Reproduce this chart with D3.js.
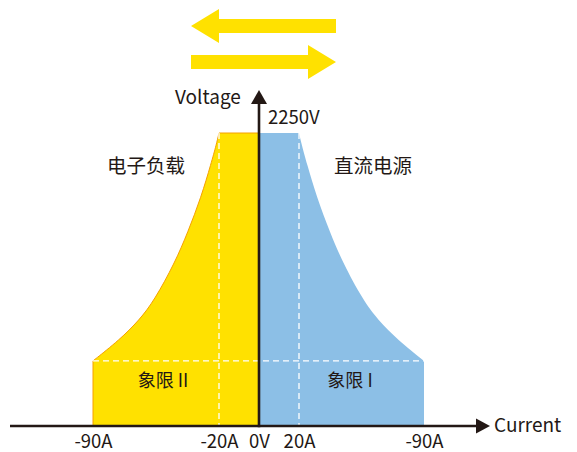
<!DOCTYPE html>
<html>
<head>
<meta charset="utf-8">
<script src="https://cdn.jsdelivr.net/npm/d3@7"></script>
<style>
  html, body { margin: 0; padding: 0; background: #fff; }
  svg { display: block; }
  text { font-family: "Noto Sans CJK SC", "Noto Sans", sans-serif; fill: #231815; }
</style>
</head>
<body>
<svg id="chart" width="577" height="452"></svg>
<script>
// ---- data ----
const tickCurrents = [-90, -20, 0, 20, 90];
const tickLabels = ["-90A", "-20A", "0V", "20A", "-90A"];
const maxVoltage = 2250;
const kneeVoltage = 500;
// edge of quadrant I (DC source), current in A, voltage in V
const sourceCurrent = [20, 21.5, 24.3, 29.9, 37.4, 44.6, 55.8, 64.2, 75.4, 90];
const sourceVoltage = [2250, 2160, 2020, 1758, 1485, 1252, 968, 814, 660, 500];
// edge of quadrant II (electronic load)
const loadCurrent = [-90, -75.4, -64.2, -55.8, -44.6, -37.4, -29.9, -24.3, -21.5, -20];
const loadVoltage = [500, 660, 814, 968, 1252, 1485, 1758, 2020, 2160, 2250];
const labels = {
  yAxis: "Voltage", xAxis: "Current", vmax: "2250V",
  load: "电子负载", source: "直流电源", q2: "象限 II", q1: "象限 I"
};

const YELLOW = "#FFE100", ORANGE = "#F5A000", BLUE = "#8CBFE6", INK = "#231815";
const FONT = '"Noto Sans CJK SC", "Noto Sans", sans-serif';

const svg = d3.select("#chart");
const x = d3.scaleLinear().domain([-90, -20, 0, 20, 90]).range([93, 219, 259, 299, 424]);
const y = d3.scaleLinear().domain([0, maxVoltage]).range([426, 133]);

const curve = d3.line().x(d => x(d[0])).y(d => y(d[1])).curve(d3.curveBasis);

// yellow region (quadrant II)
const loadPts = loadCurrent.map((c, i) => [c, loadVoltage[i]]);
const loadPath = curve(loadPts);
svg.append("path")
  .attr("d", "M" + x(-90) + "," + y(0) + "L" + loadPath.slice(1) +
       "L" + x(0) + "," + y(maxVoltage) + "L" + x(0) + "," + y(0) + "Z")
  .attr("fill", YELLOW).attr("stroke", ORANGE).attr("stroke-width", 1);

// blue region (quadrant I)
const srcPts = sourceCurrent.map((c, i) => [c, sourceVoltage[i]]);
const srcPath = curve(srcPts);
svg.append("path")
  .attr("d", "M" + x(0) + "," + y(0) + "L" + x(0) + "," + y(maxVoltage) + "L" + srcPath.slice(1) +
       "L" + x(90) + "," + y(0) + "Z")
  .attr("fill", BLUE);

// dashed guides
const dash = svg.append("g").attr("stroke", "#fff").attr("stroke-width", 1.3)
  .attr("stroke-dasharray", "6,4").attr("fill", "none");
dash.append("line").attr("x1", x(-90)).attr("x2", x(90))
  .attr("y1", y(kneeVoltage)).attr("y2", y(kneeVoltage));
[-20, 20].forEach(c => {
  dash.append("line").attr("x1", x(c)).attr("x2", x(c))
    .attr("y1", y(maxVoltage)).attr("y2", y(0));
});

// axes
svg.append("line").attr("x1", 10).attr("x2", 478).attr("y1", y(0)).attr("y2", y(0))
  .attr("stroke", INK).attr("stroke-width", 2.6);
svg.append("path").attr("d", `M${476},${y(0) - 7.5}L${490},${y(0)}L${476},${y(0) + 7.5}Z`).attr("fill", INK);
svg.append("line").attr("x1", x(0)).attr("x2", x(0)).attr("y1", y(0) + 1.3).attr("y2", 102)
  .attr("stroke", INK).attr("stroke-width", 2.6);
svg.append("path").attr("d", `M${x(0) - 8},${104}L${x(0)},${90}L${x(0) + 8},${104}Z`).attr("fill", INK);

// x tick labels via axis
const xAxis = d3.axisBottom(x).tickValues(tickCurrents)
  .tickFormat((d, i) => tickLabels[i]).tickSize(0).tickPadding(0);
const gx = svg.append("g").attr("transform", `translate(0,${y(0)})`).call(xAxis);
gx.select(".domain").remove();
gx.selectAll("text").attr("font-size", 18.5).attr("dy", null).attr("y", 22)
  .attr("fill", INK).attr("font-family", FONT);

// axis titles
svg.append("text").attr("x", 494).attr("y", 432).attr("font-size", 19).text(labels.xAxis);
svg.append("text").attr("x", 175).attr("y", 104).attr("font-size", 19).text(labels.yAxis);
svg.append("text").attr("x", 268).attr("y", 124).attr("font-size", 18.5).text(labels.vmax);

// region labels
svg.append("text").attr("x", 146).attr("y", 173).attr("font-size", 19.5)
  .attr("text-anchor", "middle").text(labels.load);
svg.append("text").attr("x", 373).attr("y", 173).attr("font-size", 19.5)
  .attr("text-anchor", "middle").text(labels.source);
svg.append("text").attr("x", 163).attr("y", 387).attr("font-size", 18)
  .attr("text-anchor", "middle").text(labels.q2);
svg.append("text").attr("x", 350).attr("y", 387).attr("font-size", 18)
  .attr("text-anchor", "middle").text(labels.q1);

// direction arrows (decoration)
svg.append("path").attr("fill", YELLOW)
  .attr("d", "M191,26L219,9L219,19L336,19L336,33L219,33L219,43Z");
svg.append("path").attr("fill", YELLOW)
  .attr("d", "M191,55L308,55L308,45L336,62L308,79L308,69L191,69Z");
</script>
</body>
</html>
